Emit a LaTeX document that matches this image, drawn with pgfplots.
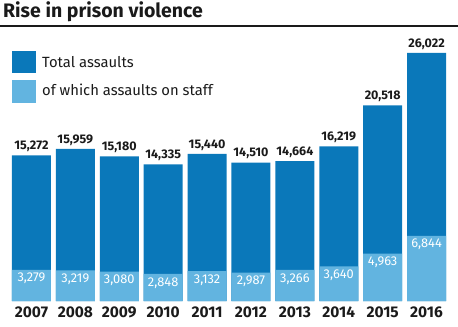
\documentclass[border=0pt]{standalone}
\usepackage{fontspec}
\setmainfont{Fira Sans}
\usepackage{pgfplots}
\pgfplotsset{compat=1.18}
\usepackage{pgfplotstable}
\definecolor{darkb}{HTML}{0A78BA}
\definecolor{lightb}{HTML}{62B4E0}
\definecolor{txt}{HTML}{1A1A1A}
\pgfplotstableread{
x total tl staff sl
0 15272 15,272 3279 3,279
1 15959 15,959 3219 3,219
2 15180 15,180 3080 3,080
3 14335 14,335 2848 2,848
4 15440 15,440 3132 3,132
5 14510 14,510 2987 2,987
6 14664 14,664 3266 3,266
7 16219 16,219 3640 3,640
8 20518 20,518 4963 4,963
9 26022 26,022 6844 6,844
}\data
\begin{document}
\begin{tikzpicture}[x=1bp,y=1bp]
\path[use as bounding box] (0,0) rectangle (458,326);
\node[anchor=base west, inner sep=0, font=\bfseries\fontsize{19.5bp}{21bp}\selectfont, text=txt] at (3,309) {Rise in prison violence};
\draw[line width=1.2bp, draw=txt] (0,300) -- (458,300);
\fill[darkb] (12,253) rectangle (36,275);
\fill[lightb] (12,223) rectangle (36,246);
\node[anchor=base west, inner sep=0, font=\fontsize{14.8bp}{16bp}\selectfont, text=txt] at (42,258.5) {Total assaults};
\node[anchor=base west, inner sep=0, font=\fontsize{14.8bp}{16bp}\selectfont, text=txt] at (42,231) {of which assaults on staff};
\begin{axis}[
  at={(9.5bp,25bp)}, anchor=south west,
  scale only axis, width=439bp, height=271bp,
  xmin=-0.5, xmax=9.5, ymin=0, ymax=28435,
  axis line style={draw=none}, major tick length=0pt,
  ytick=\empty,
  xtick={0,...,9},
  xticklabels={2007,2008,2009,2010,2011,2012,2013,2014,2015,2016},
  xticklabel style={font=\bfseries\fontsize{15.5bp}{17bp}\selectfont, text=txt, yshift=-2bp},
  clip=false,
  point meta=explicit symbolic,
]
\addplot[ybar, bar width=39bp, bar shift=0pt, fill=darkb, draw=none,
  nodes near coords,
  every node near coord/.append style={font=\bfseries\fontsize{12.5bp}{14bp}\selectfont, text=txt}]
  table[x=x, y=total, meta=tl] {\data};
\addplot[ybar, bar width=39bp, bar shift=0pt, fill=lightb, draw=none,
  nodes near coords,
  every node near coord/.append style={anchor=north, font=\fontsize{12.8bp}{14bp}\selectfont, text=white}]
  table[x=x, y=staff, meta=sl] {\data};
\end{axis}
\end{tikzpicture}
\end{document}
